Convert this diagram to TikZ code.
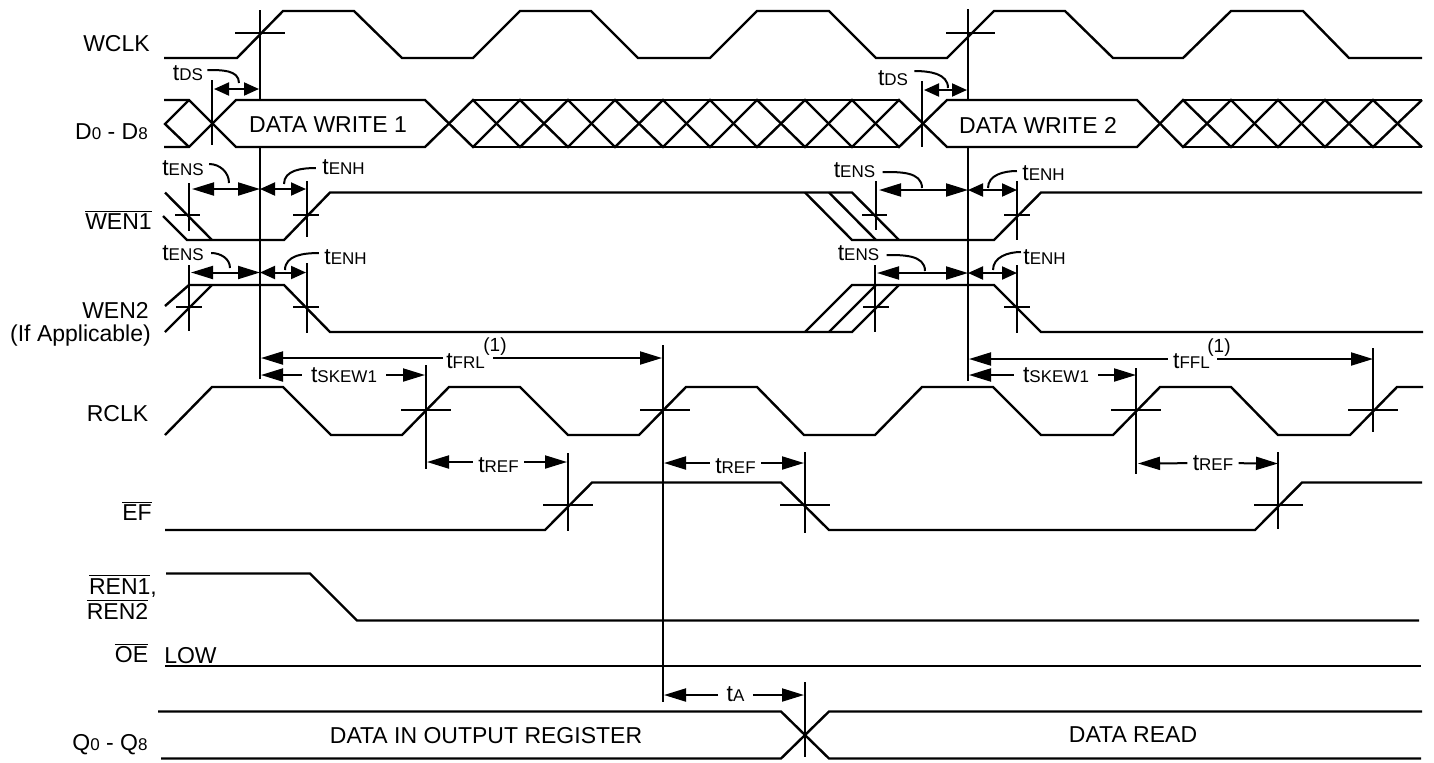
\documentclass[tikz,border=0pt]{standalone}
\usepackage{fontspec}
\setmainfont{Liberation Sans}
\usetikzlibrary{
    arrows.meta
}
\newcommand{\tsub}[2]{#1{\fontsize{8.5}{9}\selectfont #2}}
\newcommand{\barred}[1]{$\overline{\mbox{#1}}$}
\tikzset{
    wave/.style={line width=1.2pt, line join=miter},
    tick/.style={line width=1pt},
    edgeline/.style={line width=1.2pt},
    hook/.style={line width=1pt},
    lbl/.style={inner sep=0pt, font=\fontsize{11.5}{13}\selectfont},
    notelbl/.style={inner sep=0pt, font=\fontsize{9.5}{10}\selectfont},
    dimlbl/.style={lbl, inner xsep=2.5pt},
    bigtip/.style={line width=1pt, -{Triangle[length=11pt,width=6.5pt]}},
    bigtips/.style={line width=1pt, {Triangle[length=11pt,width=6.5pt]}-{Triangle[length=11pt,width=6.5pt]}},
    smalltips/.style={line width=1pt, {Triangle[length=7.5pt,width=6.5pt]}-{Triangle[length=7.5pt,width=6.5pt]}}
}

\begin{document}
\begin{tikzpicture}[x=.5pt, y=-.5pt]
    \useasboundingbox (0,0) rectangle (1434,762);

    % signal names
    \draw (116.5,43.5) node[lbl](wclk){WCLK};
    \draw (111.5,132) node[lbl](dbus){\tsub{D}{0} - \tsub{D}{8}};
    \draw (118.5,220) node[lbl](wenone){\barred{WEN1}};
    \draw (115.5,310) node[lbl](wentwo){WEN2};
    \draw (80.5,336) node[lbl](wenif){(If Applicable)};
    \draw (117.5,414) node[lbl](rclk){RCLK};
    \draw (137,511) node[lbl](ef){\barred{EF}};
    \draw (123,586) node[lbl](renone){\barred{REN1},};
    \draw (117.5,609) node[lbl](rentwo){\barred{REN2}};
    \draw (131.5,653) node[lbl](oe){\barred{OE}};
    \draw (190.5,656) node[lbl](low){LOW};
    \draw (110,745) node[lbl](qbus){\tsub{Q}{0} - \tsub{Q}{8}};

    % WCLK
    \draw[wave] (164,58) -- (237,58) -- (283,11) -- (354,11) -- (402,58) -- (473,58) -- (520,11)
        -- (591,11) -- (638,58) -- (710,58) -- (757,11) -- (829,11) -- (876,58) -- (947,58)
        -- (994,11) -- (1065,11) -- (1113,58) -- (1183,58) -- (1231,11) -- (1303,11) -- (1349,58) -- (1422,58);
    \draw[tick] (235,33) -- (285,33);
    \draw[tick] (946,33) -- (995,33);

    % data in
    \draw[wave] (164,100) -- (189,100) -- (236,147) -- (425,147) -- (473,100) -- (520,147) -- (568,100)
        -- (615,147) -- (663,100) -- (710,147) -- (757,100) -- (805,147) -- (852,100) -- (899,147) -- (947,100)
        -- (1137,100) -- (1183,147) -- (1231,100) -- (1278,147) -- (1325,100) -- (1373,147) -- (1422,100);
    \draw[wave] (164,147) -- (189,147) -- (236,100) -- (425,100) -- (473,147) -- (520,100) -- (568,147)
        -- (615,100) -- (663,147) -- (710,100) -- (757,147) -- (805,100) -- (852,147) -- (899,100) -- (947,147)
        -- (1137,147) -- (1183,100) -- (1231,147) -- (1278,100) -- (1325,147) -- (1373,100) -- (1422,147);
    \draw[wave] (189,100) -- (165,124) -- (189,147);
    \draw[wave] (473,100) -- (899,100) (473,147) -- (899,147);
    \draw[wave] (1183,100) -- (1422,100) (1183,147) -- (1422,147);
    \draw (328,125) node[lbl](writeone){DATA WRITE 1};
    \draw (1038,125) node[lbl](writetwo){DATA WRITE 2};

    % WEN1
    \draw[wave] (165,192.5) -- (212,240);
    \draw[wave] (163,216) -- (187,240) -- (284,240) -- (330,192.5) -- (852,192.5) -- (899,240);
    \draw[wave] (805,192.5) -- (852,240) -- (994,240) -- (1041,192.5) -- (1422,192.5);
    \draw[wave] (829,192.5) -- (876,240);
    \draw[tick] (189,183) -- (189,231) (175,215) -- (200,215);
    \draw[tick] (307,181) -- (307,237) (293,215) -- (319,215);
    \draw[tick] (876,181) -- (876,230) (862,215) -- (887,215);
    \draw[tick] (1017,181) -- (1017,240) (1004,215) -- (1030,215);

    % WEN2
    \draw[wave] (165,306) -- (189,285) -- (284,285) -- (330,332) -- (852,332) -- (899,285);
    \draw[wave] (165,332) -- (212,285);
    \draw[wave] (805,332) -- (852,285) -- (994,285) -- (1041,332) -- (1423,332);
    \draw[wave] (829,332) -- (876,285);
    \draw[tick] (189,265) -- (189,331) (176,307) -- (202,307);
    \draw[tick] (307,263) -- (307,333) (293,307) -- (319,307);
    \draw[tick] (875,265) -- (875,332) (863,307) -- (889,307);
    \draw[tick] (1017,265) -- (1017,333) (1004,307) -- (1030,307);

    % RCLK
    \draw[wave] (165,435) -- (212,387) -- (283,387) -- (331,435) -- (402,435) -- (449,387) -- (520,387)
        -- (568,435) -- (639,435) -- (686,387) -- (757,387) -- (804,435) -- (875,435) -- (922,387) -- (993,387)
        -- (1041,435) -- (1113,435) -- (1160,387) -- (1231,387) -- (1278,435) -- (1350,435) -- (1397,387) -- (1423,387);
    \draw[tick] (401,410) -- (451,410);
    \draw[tick] (640,410) -- (690,410);
    \draw[tick] (1111,410) -- (1161,410);
    \draw[tick] (1348,410) -- (1398,410) (1373,348) -- (1373,432);

    % EF
    \draw[wave] (165,530) -- (545,530) -- (592,482.5) -- (781,482.5) -- (829,530) -- (1255,530) -- (1302,482.5) -- (1422,482.5);
    \draw[tick] (543,504.5) -- (593,504.5);
    \draw[tick] (780,504.5) -- (830,504.5);
    \draw[tick] (1254,504.5) -- (1303,504.5);

    % REN, OE
    \draw[wave] (166,573.5) -- (310,573.5) -- (357,620.5) -- (1419,620.5);
    \draw[wave] (165,666) -- (1421,666);

    % data out
    \draw[wave] (158,711.5) -- (781,711.5) -- (829,758.5) -- (1421,758.5);
    \draw[wave] (161,758.5) -- (781,758.5) -- (829,711.5) -- (1422,711.5);
    \draw (486,736) node[lbl](dataout){DATA IN OUTPUT REGISTER};
    \draw (1133,735) node[lbl](dataread){DATA READ};

    % edge lines
    \draw[edgeline] (260,10) -- (260,99) (260,148) -- (260,379);
    \draw[edgeline] (968,9) -- (968,99) (968,148) -- (968,381);
    \draw[tick] (212,80) -- (212,145);
    \draw[tick] (922,81) -- (922,147);
    \draw[tick] (425.5,365) -- (425.5,469);
    \draw[edgeline] (663,345) -- (663,702);
    \draw[tick] (1136,368) -- (1136,474);
    \draw[tick] (567.5,453) -- (567.5,531);
    \draw[tick] (804.5,452) -- (804.5,533);
    \draw[tick] (1278,452) -- (1278,529);
    \draw[tick] (804.5,682) -- (804.5,757);

    % tDS
    \draw (188,73) node[lbl](dsone){\tsub{t}{DS}};
    \draw (893,78) node[lbl](dstwo){\tsub{t}{DS}};
    \coordinate (dsoneA) at (214,89); \coordinate (dsoneB) at (259,89);
    \coordinate (dstwoA) at (924,90); \coordinate (dstwoB) at (967,90);
    \draw[smalltips] (dsoneA) -- (dsoneB);
    \draw[smalltips] (dstwoA) -- (dstwoB);
    \draw[hook] ([shift={(2pt,1.5pt)}]dsone.east) to[out=0, in=90] (239,83);
    \draw[hook] ([shift={(3pt,3.5pt)}]dstwo.east) to[out=0, in=90] (948,88);

    % tENS, tENH on WEN1
    \draw (183,168) node[lbl](ensone){\tsub{t}{ENS}};
    \draw (343.5,167) node[lbl](enhone){\tsub{t}{ENH}};
    \draw (854.5,170) node[lbl](enstwo){\tsub{t}{ENS}};
    \draw (1043.5,173) node[lbl](enhtwo){\tsub{t}{ENH}};
    \coordinate (ensoneA) at (192,189); \coordinate (ensoneB) at (260,189); \coordinate (enhoneB) at (306,189);
    \coordinate (enstwoA) at (879,190); \coordinate (enstwoB) at (968,190); \coordinate (enhtwoB) at (1017,190);
    \draw[bigtips] (ensoneA) -- (ensoneB);
    \draw[smalltips] (ensoneB) -- (enhoneB);
    \draw[bigtips] (enstwoA) -- (enstwoB);
    \draw[smalltips] (enstwoB) -- (enhtwoB);
    \draw[hook] ([shift={(2.5pt,2pt)}]ensone.east) to[out=0, in=90] (229,183);
    \draw[hook] ([shift={(-3pt,-.5pt)}]enhone.west) to[out=180, in=90] (284,184);
    \draw[hook] ([shift={(3.5pt,-1pt)}]enstwo.east) to[out=0, in=90] (922,188);
    \draw[hook] ([shift={(-2.5pt,1pt)}]enhtwo.west) to[out=180, in=90] (988,188);

    % tENS, tENH on WEN2
    \draw (183,253) node[lbl](ensthree){\tsub{t}{ENS}};
    \draw (345.5,257) node[lbl](enhthree){\tsub{t}{ENH}};
    \draw (858.5,253) node[lbl](ensfour){\tsub{t}{ENS}};
    \draw (1044.5,257) node[lbl](enhfour){\tsub{t}{ENH}};
    \coordinate (ensthreeA) at (191,272.5); \coordinate (ensthreeB) at (260,272.5); \coordinate (enhthreeB) at (306,272.5);
    \coordinate (ensfourA) at (877,273); \coordinate (ensfourB) at (968,273); \coordinate (enhfourB) at (1017,273);
    \draw[bigtips] (ensthreeA) -- (ensthreeB);
    \draw[smalltips] (ensthreeB) -- (enhthreeB);
    \draw[bigtips] (ensfourA) -- (ensfourB);
    \draw[smalltips] (ensfourB) -- (enhfourB);
    \draw[hook] ([shift={(3.5pt,0pt)}]ensthree.east) to[out=0, in=90] (230,268);
    \draw[hook] ([shift={(-2.5pt,2pt)}]enhthree.west) to[out=180, in=90] (285,270);
    \draw[hook] ([shift={(3.5pt,-1pt)}]ensfour.east) to[out=0, in=90] (925,271);
    \draw[hook] ([shift={(-1pt,2.5pt)}]enhfour.west) to[out=180, in=90] (993,270);

    % tFRL, tFFL
    \draw (465.5,361) node[dimlbl, inner xsep=1.5pt](frl){\tsub{t}{FRL}};
    \draw (495,346.5) node[notelbl](frlnote){(1)};
    \draw (1191.5,361) node[dimlbl](ffl){\tsub{t}{FFL}};
    \draw (1219,348) node[notelbl](fflnote){(1)};
    \coordinate (frlA) at (261,358); \coordinate (frlB) at (662,358); \coordinate (frlC) at (493,358);
    \coordinate (fflA) at (969,359); \coordinate (fflB) at (1373,359); \coordinate (fflC) at (1217,359);
    \draw[bigtip] (frl.west |- frlA) -- (frlA);
    \draw[bigtip] (frlC) -- (frlB);
    \draw[bigtip] (ffl.west |- fflA) -- (fflA);
    \draw[bigtip] (fflC) -- (fflB);

    % tSKEW1
    \draw (344,375) node[dimlbl, inner xsep=4.5pt](skewone){\tsub{t}{SKEW1}};
    \draw (1056,375) node[dimlbl, inner xsep=4.5pt](skewtwo){\tsub{t}{SKEW1}};
    \coordinate (skewoneA) at (261,375); \coordinate (skewoneB) at (425,375);
    \coordinate (skewtwoA) at (969,375); \coordinate (skewtwoB) at (1136,375);
    \draw[bigtip] (skewone) -- (skewoneA);
    \draw[bigtip] (skewone) -- (skewoneB);
    \draw[bigtip] (skewtwo) -- (skewtwoA);
    \draw[bigtip] (skewtwo) -- (skewtwoB);

    % tREF
    \draw (498.5,465) node[dimlbl](refone){\tsub{t}{REF}};
    \draw (735.5,466) node[dimlbl](reftwo){\tsub{t}{REF}};
    \draw (1213,463) node[dimlbl](refthree){\tsub{t}{REF}};
    \coordinate (refoneA) at (427,462); \coordinate (refoneB) at (567,462);
    \coordinate (reftwoA) at (664,463); \coordinate (reftwoB) at (804,463);
    \coordinate (refthreeA) at (1138,463.5); \coordinate (refthreeB) at (1278,463.5);
    \draw[bigtip] (refone.west |- refoneA) -- (refoneA);
    \draw[bigtip] (refone.east |- refoneA) -- (refoneB);
    \draw[bigtip] (reftwo.west |- reftwoA) -- (reftwoA);
    \draw[bigtip] (reftwo.east |- reftwoA) -- (reftwoB);
    \draw[bigtip] (refthree) -- (refthreeA);
    \draw[bigtip] (refthree) -- (refthreeB);

    % tA
    \draw (735.5,694) node[dimlbl, inner xsep=4pt](acc){\tsub{t}{A}};
    \coordinate (accA) at (664,695); \coordinate (accB) at (804,695);
    \draw[bigtip] (acc.west |- accA) -- (accA);
    \draw[bigtip] (acc.east |- accA) -- (accB);
\end{tikzpicture}
\end{document}
